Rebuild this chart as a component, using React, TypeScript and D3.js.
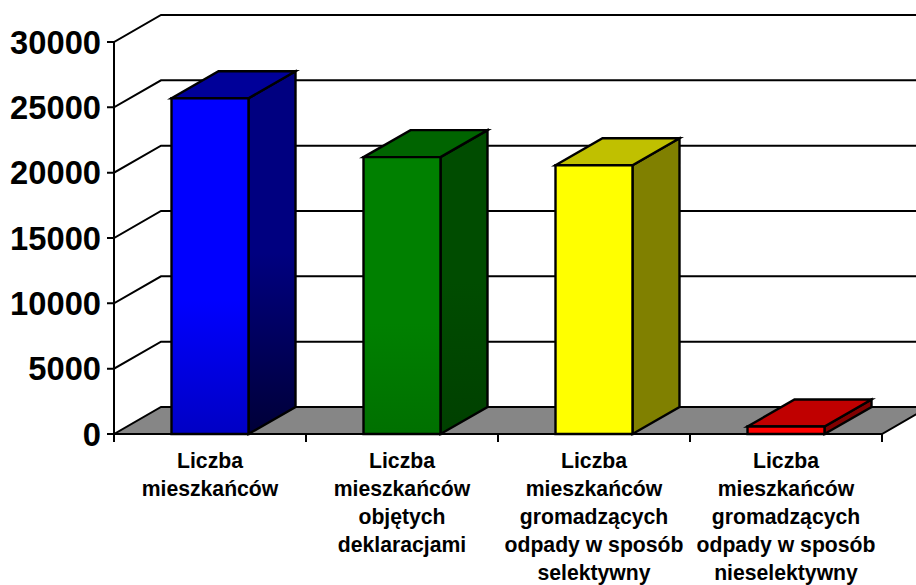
import React from "react";
import * as d3 from "d3";

const categories: string[][] = [
  ["Liczba", "mieszkańców"],
  ["Liczba", "mieszkańców", "objętych", "deklaracjami"],
  ["Liczba", "mieszkańców", "gromadzących", "odpady w sposób", "selektywny"],
  ["Liczba", "mieszkańców", "gromadzących", "odpady w sposób", "nieselektywny"],
];
const values = [25690, 21190, 20570, 570];
const ticks = [0, 5000, 10000, 15000, 20000, 25000, 30000];
const front = [["#0000ff", "#0000c4"], ["#008000", "#007000"], ["#ffff00", "#ffff00"], ["#ff0000", "#ff0000"]];
const side = [["#000080", "#000038"], ["#004c00", "#004000"], ["#808000", "#808000"], ["#800000", "#800000"]];
const topc = ["#000099", "#006400", "#c0c000", "#c00000"];

const y = d3.scaleLinear().domain([0, 30000]).range([434, 42]);
const x = d3.scaleBand<number>().domain([0, 1, 2, 3]).range([114, 882]).paddingInner(0).paddingOuter(0);
const DX = 47, DY = -27;
const BW = 77;
const font = "'Liberation Sans', Arial, sans-serif";
const poly = (p: number[][]) => d3.line()(p as [number, number][]) + "Z";

export default function App() {
  const x0 = x.range()[0], x1 = x.range()[1];
  return (
    <svg width={916} height={585} style={{ position: "absolute", left: 0, top: 0 }} fontFamily={font} fontWeight="bold">
      <defs>
        {front.map((c, i) => (
          <linearGradient key={i} id={"f" + i} x1="0" y1="0" x2="0" y2="1">
            <stop offset="0" stopColor={c[0]} /><stop offset="0.6" stopColor={c[0]} /><stop offset="1" stopColor={c[1]} />
          </linearGradient>
        ))}
        {side.map((c, i) => (
          <linearGradient key={i} id={"s" + i} x1="0" y1="0" x2="0" y2="1">
            <stop offset="0" stopColor={c[0]} /><stop offset="0.5" stopColor={c[0]} /><stop offset="1" stopColor={c[1]} />
          </linearGradient>
        ))}
      </defs>
      <path d={poly([[x0, y(0)], [x0 + DX, y(0) + DY], [x1 + DX, y(0) + DY], [x1, y(0)]])} fill="#868686" stroke="none" />
      {ticks.map((t) => (
        <path key={t} d={`M${x0 - 7},${y(t)}H${x0}L${x0 + DX},${y(t) + DY}H916`} fill="none" stroke="#000" strokeWidth={2} />
      ))}
      <path d={`M${x0},${y(30000)}V${y(0)}H${x1}L${x1 + DX},${y(0) + DY}`} fill="none" stroke="#000" strokeWidth={2} />
      {d3.range(5).map((i) => {
        const tx = x0 + i * x.bandwidth();
        return <line key={i} x1={tx} x2={tx} y1={y(0)} y2={y(0) + 8} stroke="#000" strokeWidth={2} />;
      })}
      {ticks.map((t) => (
        <text key={t} x={101} y={y(t) + 11.5} textAnchor="end" fontSize={32.7} fill="#000">{t}</text>
      ))}
      {values.map((v, i) => {
        const l = x(i)! + (x.bandwidth() - BW) / 2, r = l + BW, t = y(v), b = y(0);
        return (
          <g key={i} stroke="#000" strokeWidth={2.4} strokeLinejoin="miter">
            <path d={poly([[r, t], [r + DX, t + DY], [r + DX, b + DY], [r, b]])} fill={`url(#s${i})`} />
            <path d={poly([[l, t], [l + DX, t + DY], [r + DX, t + DY], [r, t]])} fill={topc[i]} />
            <path d={poly([[l, t], [r, t], [r, b], [l, b]])} fill={`url(#f${i})`} />
          </g>
        );
      })}
      {categories.map((lines, i) => (
        <text key={i} textAnchor="middle" fontSize={21.2} fill="#000">
          {lines.map((s, j) => (
            <tspan key={j} x={x(i)! + x.bandwidth() / 2} y={468 + j * 28}>{s}</tspan>
          ))}
        </text>
      ))}
    </svg>
  );
}
